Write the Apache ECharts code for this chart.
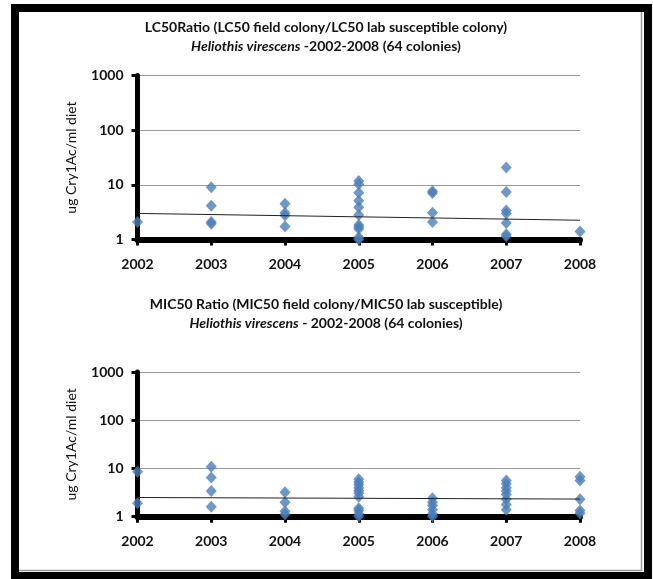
<!DOCTYPE html>
<html>
<head>
<meta charset="utf-8">
<script src="https://cdn.jsdelivr.net/npm/echarts@6/dist/echarts.min.js"></script>
<style>
html,body{margin:0;padding:0;background:#fff;}
#c{width:653px;height:579px;}
</style>
</head>
<body>
<div id="c"></div>
<script>
// ---- data ----
const years = ['2002','2003','2004','2005','2006','2007','2008'];
const yTicks = [1, 10, 100, 1000];
// LC50 ratio values per year (top chart)
const lc50ByYear = [
  [2.1],
  [9.0, 4.15, 2.1, 1.95],
  [4.5, 3.1, 2.75, 1.72],
  [11.7, 10.3, 7.2, 5.1, 3.9, 2.8, 1.85, 1.7, 1.55, 1.1, 1.0],
  [7.6, 7.1, 3.1, 2.1],
  [20.8, 7.4, 3.4, 3.0, 2.0, 1.25, 1.15],
  [1.4]
];
// MIC50 ratio values per year (bottom chart)
const mic50ByYear = [
  [8.6, 1.9],
  [10.8, 6.5, 3.4, 1.6],
  [3.2, 2.0, 1.3, 1.12],
  [6.0, 5.2, 4.6, 4.0, 3.5, 3.1, 2.6, 1.5, 1.35, 1.15, 1.02],
  [2.4, 2.0, 1.7, 1.4, 1.15, 1.02],
  [5.6, 4.8, 4.0, 3.4, 2.9, 2.3, 1.8, 1.4],
  [6.7, 5.6, 2.3, 1.35, 1.18]
];
// trend line end values (2002, 2008)
const lc50Trend = [3.0, 2.25];
const mic50Trend = [2.5, 2.32];

const title1a = 'LC50Ratio (LC50 field colony/LC50 lab susceptible colony)';
const title1b = '{i|Heliothis virescens} -2002-2008 (64 colonies)';
const title2a = 'MIC50 Ratio (MIC50 field colony/MIC50 lab susceptible)';
const title2b = '{i|Heliothis virescens} - 2002-2008 (64 colonies)';
const yName = 'ug Cry1Ac/ml diet';

// ---- build ----
function pts(byYear){
  const out = [];
  byYear.forEach((vals, i) => vals.forEach(v => out.push([years[i], v])));
  return out;
}
const FONT = 'Lato, "Open Sans", sans-serif';
const blue = '#4a7ebb';

function xAxis(gi){
  return {
    type:'category', gridIndex:gi, data:years, boundaryGap:false,
    axisLine:{show:true, lineStyle:{color:'#000', width:6}},
    axisTick:{show:true, alignWithLabel:true, length:6, lineStyle:{color:'#000', width:3}},
    axisLabel:{color:'#111', fontFamily:FONT, fontWeight:'bold', fontSize:14, margin:18},
    splitLine:{show:false}
  };
}
function yAxis(gi){
  return {
    type:'log', gridIndex:gi, logBase:10, min:yTicks[0], max:yTicks[yTicks.length-1],
    name:yName, nameLocation:'middle', nameRotate:90, nameGap:59,
    nameTextStyle:{color:'#111', fontFamily:FONT, fontSize:14},
    axisLine:{show:true, lineStyle:{color:'#000', width:5}},
    axisTick:{show:true, length:6, lineStyle:{color:'#000', width:3}},
    axisLabel:{color:'#111', fontFamily:FONT, fontWeight:'bold', fontSize:14, margin:14,
      formatter: v => String(Math.round(v))},
    splitLine:{show:true, lineStyle:{color:'#999', width:1}}
  };
}
function titleText(x, y, text){
  return {
    type:'text', x:x, y:y, z:10,
    style:{
      text:text, fill:'#111', font:'bold 14px ' + FONT,
      align:'center', verticalAlign:'middle',
      rich:{ i:{fontStyle:'italic', fontWeight:'bold', fontFamily:FONT, fontSize:14, fill:'#111'} }
    }
  };
}

const chart = echarts.init(document.getElementById('c'), null, {renderer:'canvas'});
chart.setOption({
  animation:false,
  backgroundColor:'#fff',
  grid:[
    {left:137.5, right:73, top:75.5, height:164},
    {left:137.5, right:73, top:372, height:144.7}
  ],
  xAxis:[xAxis(0), xAxis(1)],
  yAxis:[yAxis(0), yAxis(1)],
  series:[
    {type:'scatter', xAxisIndex:0, yAxisIndex:0, data:pts(lc50ByYear),
     symbol:'diamond', symbolSize:[11,12], itemStyle:{color:blue}, z:3},
    {type:'line', xAxisIndex:0, yAxisIndex:0,
     data:[[years[0], lc50Trend[0]], [years[years.length-1], lc50Trend[1]]],
     symbol:'none', lineStyle:{color:'#222', width:1}, z:4},
    {type:'scatter', xAxisIndex:1, yAxisIndex:1, data:pts(mic50ByYear),
     symbol:'diamond', symbolSize:[11,12], itemStyle:{color:blue}, z:3},
    {type:'line', xAxisIndex:1, yAxisIndex:1,
     data:[[years[0], mic50Trend[0]], [years[years.length-1], mic50Trend[1]]],
     symbol:'none', lineStyle:{color:'#222', width:1}, z:4}
  ],
  graphic:[
    {type:'rect', z:20, shape:{x:15, y:8, width:633, height:568},
     style:{fill:null, stroke:'#000', lineWidth:8}},
    {type:'line', z:19, shape:{x1:641.5, y1:12, x2:641.5, y2:571}, style:{stroke:'#999', lineWidth:1.5}},
    {type:'line', z:19, shape:{x1:19, y1:570.5, x2:642, y2:570.5}, style:{stroke:'#999', lineWidth:1.5}},
    titleText(326, 27, title1a),
    titleText(326, 46, title1b),
    titleText(326, 304.5, title2a),
    titleText(326, 323.5, title2b)
  ]
});
</script>
</body>
</html>
